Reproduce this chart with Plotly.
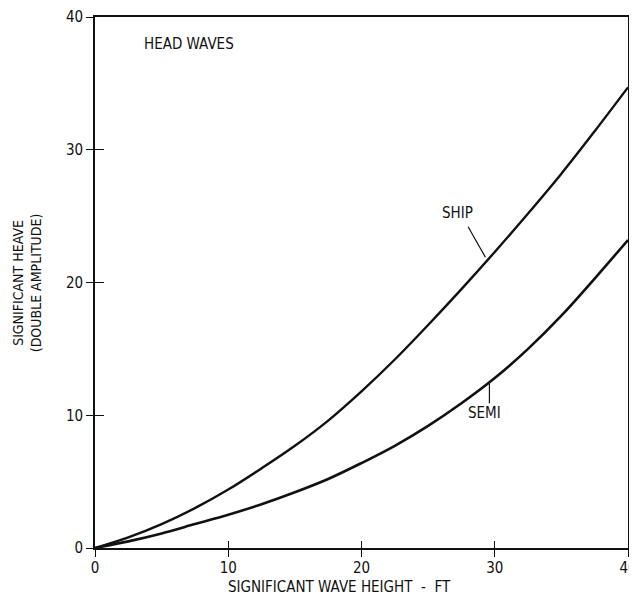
import plotly.graph_objects as go

wave_height = [0, 2.5, 5, 7.5, 10, 12.5, 15, 17.5, 20, 22.5, 25, 27.5, 30, 32.5, 35, 37.5, 40]
ship_heave = [0, 0.8, 1.8, 3.0, 4.4, 6.0, 7.7, 9.6, 11.8, 14.2, 16.8, 19.5, 22.3, 25.2, 28.2, 31.4, 34.7]
semi_heave = [0, 0.5, 1.1, 1.8, 2.5, 3.3, 4.2, 5.2, 6.4, 7.7, 9.2, 10.9, 12.8, 15.0, 17.5, 20.3, 23.2]
tick_vals = [0, 10, 20, 30, 40]

FONT = "DejaVu Sans Condensed, Liberation Sans Narrow, Arial Narrow, sans-serif"
BLACK = "#111111"

fig = go.Figure()
fig.add_trace(go.Scatter(x=wave_height, y=ship_heave, mode="lines", name="SHIP",
                         line=dict(color=BLACK, width=2.4, shape="spline", smoothing=1.0),
                         showlegend=False))
fig.add_trace(go.Scatter(x=wave_height, y=semi_heave, mode="lines", name="SEMI",
                         line=dict(color=BLACK, width=2.6, shape="spline", smoothing=1.0),
                         showlegend=False))
# invisible trace carrying the inner tick axes
fig.add_trace(go.Scatter(x=[0], y=[0], xaxis="x2", yaxis="y2", mode="markers",
                         marker=dict(opacity=0), showlegend=False, hoverinfo="skip"))

axis_common = dict(range=[0, 40], tickvals=tick_vals, showgrid=False, zeroline=False,
                   showline=True, linecolor=BLACK, linewidth=1.6, mirror=True,
                   ticks="outside", ticklen=7, tickwidth=1.3, tickcolor=BLACK,
                   automargin=False,
                   tickfont=dict(family=FONT, size=15, color=BLACK))

# the page body adds an 8px offset, so the figure is sized to the remaining window
fig.update_layout(
    width=629, height=590,
    margin=dict(l=87, r=9, t=9, b=50, autoexpand=False),
    paper_bgcolor="white", plot_bgcolor="white",
    font=dict(family=FONT, size=15, color=BLACK),
    xaxis=dict(**axis_common, ticklabelstandoff=-2),
    yaxis=dict(**axis_common),
    xaxis2=dict(overlaying="x", side="bottom", range=[0, 40], tickvals=tick_vals,
                ticks="inside", ticklen=7, tickwidth=1.3, tickcolor=BLACK, automargin=False,
                showticklabels=False, showgrid=False, zeroline=False, showline=False),
    yaxis2=dict(overlaying="y", side="left", range=[0, 40], tickvals=tick_vals,
                ticks="inside", ticklen=9, tickwidth=1.3, tickcolor=BLACK, automargin=False,
                showticklabels=False, showgrid=False, zeroline=False, showline=False),
    annotations=[
        dict(text="HEAD WAVES", x=3.5, y=38.0, xref="x", yref="y", xanchor="left",
             yanchor="middle", showarrow=False, font=dict(family=FONT, size=15)),
        dict(text="SHIP", x=27.2, y=25.2, xref="x", yref="y", xanchor="center",
             yanchor="middle", showarrow=False, font=dict(family=FONT, size=15)),
        dict(text="SEMI", x=29.2, y=10.2, xref="x", yref="y", xanchor="center",
             yanchor="middle", showarrow=False, font=dict(family=FONT, size=15)),
        dict(text="SIGNIFICANT WAVE HEIGHT  -  FT", x=0.458, y=-0.074, xref="paper",
             yref="paper", xanchor="center", yanchor="middle", showarrow=False,
             font=dict(family=FONT, size=15)),
        dict(text="SIGNIFICANT HEAVE<br>(DOUBLE AMPLITUDE)", x=-0.128, y=0.5, xref="paper",
             yref="paper", xanchor="center", yanchor="middle", textangle=-90, showarrow=False,
             font=dict(family=FONT, size=14)),
    ],
    shapes=[
        dict(type="line", xref="x", yref="y", x0=28.0, y0=24.2, x1=29.3, y1=21.9,
             line=dict(color=BLACK, width=1.2)),
        dict(type="line", xref="x", yref="y", x0=29.6, y0=12.4, x1=29.6, y1=10.9,
             line=dict(color=BLACK, width=1.2)),
    ],
)

fig.write_html("out.html")
